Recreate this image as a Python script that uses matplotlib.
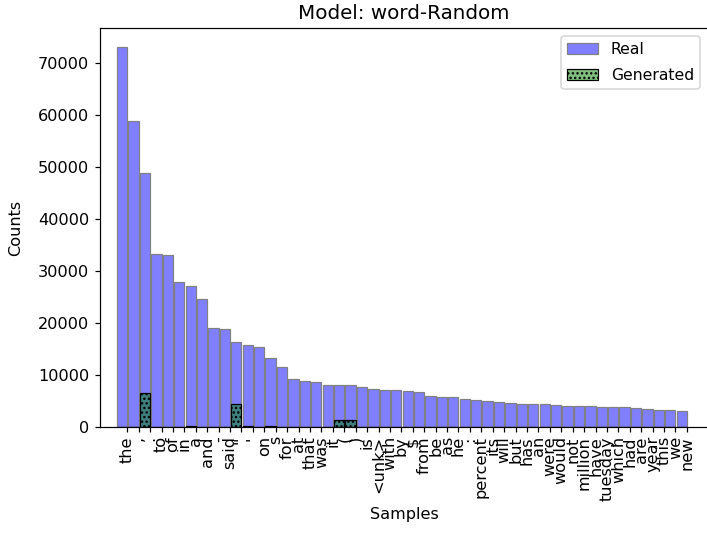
import matplotlib
matplotlib.use("Agg")
import matplotlib.pyplot as plt
import numpy as np

# Top-50 word frequencies in the real corpus vs. the generated samples
words = ["the", ",", ".", "to", "of", "in", "a", "and", "-", "said",
         '"', "'", "on", "s", "for", "at", "that", "was", "it", "(",
         ")", "is", "<unk>", "with", "by", "$", "from", "be", "as", "he",
         ":", "percent", "its", "will", "but", "has", "an", "were", "would", "not",
         "million", "have", "tuesday", "which", "had", "are", "year", "this", "we", "new"]

real_counts = [73050, 58750, 48780, 33310, 33120, 27810, 27170, 24680, 19050, 18800,
               16370, 15670, 15470, 13170, 11570, 9140, 8820, 8630, 8120, 8120,
               8120, 7740, 7290, 7100, 7050, 6970, 6780, 5950, 5820, 5820,
               5310, 5240, 4920, 4860, 4600, 4410, 4350, 4350, 4280, 4090,
               4090, 3960, 3900, 3840, 3840, 3640, 3390, 3200, 3200, 3070]

generated_counts = [0, 0, 6580, 0, 0, 0, 150, 0, 0, 0,
                    4410, 150, 0, 150, 0, 0, 0, 0, 0, 1340,
                    1340, 0, 0, 0, 0, 0, 0, 0, 0, 0,
                    0, 0, 0, 0, 0, 0, 0, 0, 0, 0,
                    0, 0, 0, 0, 0, 0, 0, 0, 0, 0]

plt.rcParams["font.size"] = 10.6

W, H, DPI = 707, 535, 110
fig = plt.figure(figsize=(W / DPI, H / DPI), dpi=DPI)
ax = fig.add_axes([100 / W, (H - 427) / H, 608 / W, 399 / H])

pos = np.arange(len(words))
ax.bar(pos, real_counts, width=-0.9, align="edge", facecolor=(0, 0, 1, 0.5),
       edgecolor="gray", linewidth=0.8, label="Real")
ax.bar(pos, generated_counts, width=-0.9, align="edge", facecolor=(0, 0.5, 0, 0.5),
       edgecolor="black", linewidth=0.8, hatch="....", label="Generated")

ax.set_xticks(pos)
ax.set_xticklabels(words, rotation=90)
ax.tick_params(axis="x", pad=2.5)
ax.set_xlim(-2.39, 50.85)
ax.set_ylim(0, max(real_counts) * 1.05)
ax.set_xlabel("Samples")
ax.set_ylabel("Counts", labelpad=10)
ax.set_title("Model: word-Random", fontsize=13)
ax.legend(loc="upper right", fontsize=10.2, labelspacing=0.7)

fig.savefig("out.png", dpi=DPI)
